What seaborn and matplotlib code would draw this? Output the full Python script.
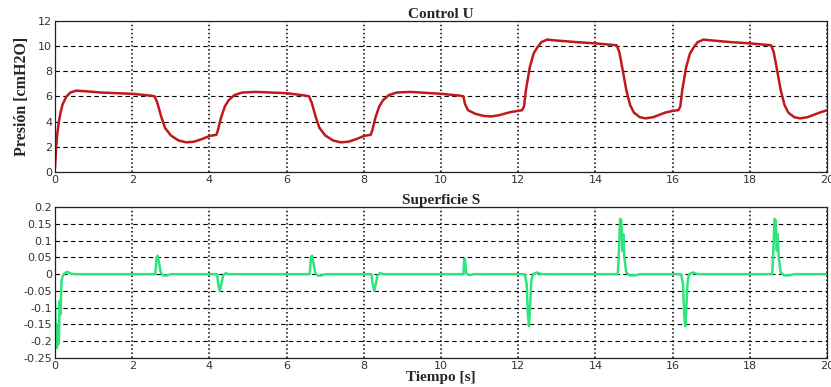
import matplotlib
matplotlib.use('Agg')
import matplotlib.pyplot as plt
import seaborn as sns

# Control U (presion)
t_u = [0, 0.02, 0.05, 0.1, 0.15, 0.2, 0.3, 0.4, 0.55, 0.8, 1.2, 2.0, 2.5, 2.58, 2.65, 2.75, 2.85,
       3.0, 3.2, 3.4, 3.6, 3.8, 4.0, 4.18, 4.22, 4.3, 4.4, 4.5, 4.65, 4.85, 5.2, 6.0, 6.5, 6.58,
       6.65, 6.75, 6.85, 7.0, 7.2, 7.4, 7.6, 7.8, 8.0, 8.18, 8.22, 8.3, 8.4, 8.5, 8.65, 8.85, 9.2,
       10.0, 10.5, 10.58, 10.62, 10.7, 10.9, 11.1, 11.3, 11.5, 11.8, 12.1, 12.15, 12.2, 12.3, 12.4,
       12.5, 12.6, 12.75, 12.9, 13.5, 14.0, 14.55, 14.62, 14.7, 14.8, 14.9, 15.0, 15.15, 15.3,
       15.5, 15.8, 16.0, 16.15, 16.2, 16.25, 16.35, 16.45, 16.55, 16.65, 16.8, 16.95, 17.5, 18.0,
       18.55, 18.62, 18.7, 18.8, 18.9, 19.0, 19.15, 19.3, 19.5, 19.8, 20.0]
u = [0.3, 1.5, 2.8, 4.0, 4.8, 5.4, 6.0, 6.3, 6.45, 6.4, 6.3, 6.2, 6.05, 6.0, 5.5, 4.4, 3.5,
     2.9, 2.5, 2.35, 2.4, 2.6, 2.85, 2.95, 3.3, 4.3, 5.2, 5.7, 6.1, 6.3, 6.35, 6.25, 6.05, 6.0,
     5.5, 4.4, 3.5, 2.9, 2.5, 2.35, 2.4, 2.6, 2.85, 2.95, 3.3, 4.3, 5.2, 5.7, 6.1, 6.3, 6.35,
     6.2, 6.05, 6.0, 5.4, 4.9, 4.6, 4.45, 4.4, 4.5, 4.75, 4.9, 5.2, 6.5, 8.3, 9.4,
     9.9, 10.3, 10.5, 10.45, 10.3, 10.2, 10.05, 9.5, 8.2, 6.5, 5.3, 4.7, 4.35, 4.25,
     4.35, 4.7, 4.85, 4.9, 5.2, 6.5, 8.3, 9.4, 9.9, 10.3, 10.5, 10.45, 10.3, 10.2,
     10.05, 9.5, 8.2, 6.5, 5.3, 4.7, 4.35, 4.25, 4.35, 4.7, 4.9]

# Superficie S
t_s = [0, 0.02, 0.04, 0.06, 0.08, 0.1, 0.12, 0.14, 0.17, 0.2, 0.25, 0.32, 0.4, 0.5,
       2.6, 2.63, 2.66, 2.7, 2.74, 2.8, 2.9, 3.0,
       4.2, 4.23, 4.27, 4.31, 4.35, 4.42, 4.5,
       6.6, 6.63, 6.66, 6.7, 6.74, 6.8, 6.9, 7.0,
       8.2, 8.23, 8.27, 8.31, 8.35, 8.42, 8.5,
       10.58, 10.6, 10.62, 10.65, 10.68, 10.75, 10.85,
       12.15, 12.18, 12.22, 12.25, 12.28, 12.31, 12.34, 12.38, 12.48, 12.6,
       14.58, 14.61, 14.64, 14.67, 14.7, 14.72, 14.75, 14.8, 14.9, 15.05, 15.15,
       16.2, 16.23, 16.27, 16.3, 16.33, 16.36, 16.39, 16.43, 16.53, 16.65,
       18.58, 18.61, 18.64, 18.67, 18.7, 18.72, 18.75, 18.8, 18.9, 19.05, 19.15, 20.0]
s = [-0.08, -0.2, -0.22, -0.15, -0.21, -0.2, -0.08, -0.12, -0.02, -0.005, 0.003, 0.007, 0.002, 0.0,
     0.0, 0.05, 0.055, 0.03, 0.005, -0.004, -0.004, 0.0,
     0.0, -0.03, -0.05, -0.03, -0.005, 0.003, 0.0,
     0.0, 0.05, 0.055, 0.03, 0.005, -0.004, -0.004, 0.0,
     0.0, -0.03, -0.05, -0.03, -0.005, 0.003, 0.0,
     0.0, 0.045, 0.045, 0.005, 0.0, -0.003, 0.0,
     0.0, -0.005, -0.03, -0.12, -0.155, -0.09, -0.02, 0.0, 0.005, 0.0,
     0.0, 0.07, 0.165, 0.16, 0.07, 0.12, 0.05, 0.005, -0.004, -0.003, 0.0,
     0.0, -0.005, -0.03, -0.12, -0.155, -0.09, -0.02, 0.0, 0.005, 0.0,
     0.0, 0.07, 0.165, 0.16, 0.07, 0.12, 0.05, 0.005, -0.004, -0.003, 0.0, 0.0]

sns.set_style('white')
plt.rcParams['font.family'] = ['DejaVu Sans']

fig = plt.figure(figsize=(8.31, 3.87), dpi=100)
ax1 = fig.add_axes([0.0662, 0.5556, 0.929, 0.391])
ax2 = fig.add_axes([0.0662, 0.0749, 0.929, 0.390])

sns.lineplot(x=t_u, y=u, ax=ax1, color='#c0181c', linewidth=1.8, estimator=None, sort=False)
sns.lineplot(x=t_s, y=s, ax=ax2, color='#2ee57c', linewidth=1.8, estimator=None, sort=False)

ax1.set_ylim(0, 12)
ax1.set_yticks([0, 2, 4, 6, 8, 10, 12])
ax2.set_ylim(-0.25, 0.2)
ax2.set_yticks([-0.25, -0.2, -0.15, -0.1, -0.05, 0, 0.05, 0.1, 0.15, 0.2])
ax2.set_yticklabels(['-0.25', '-0.2', '-0.15', '-0.1', '-0.05', '0', '0.05', '0.1', '0.15', '0.2'])

serif = ['Liberation Serif', 'DejaVu Serif']
for ax in (ax1, ax2):
    ax.set_xlim(0, 20)
    ax.set_xticks(range(0, 21, 2))
    ax.xaxis.grid(True, linestyle=':', color='black', linewidth=1.1)
    ax.yaxis.grid(True, linestyle='--', color='black', linewidth=0.8, dashes=(4, 3))
    ax.set_axisbelow(True)
    ax.tick_params(axis='both', direction='in', length=3, labelsize=8, pad=2, colors='#333333')
    for sp in ax.spines.values():
        sp.set_color('#222222')
        sp.set_linewidth(0.9)

ax1.set_title('Control U', fontsize=11, fontweight='bold', family=serif, pad=2)
ax2.set_title('Superficie S', fontsize=11, fontweight='bold', family=serif, pad=2)
ax1.set_ylabel('Presión [cmH2O]', fontsize=11.5, fontweight='bold', family=serif, labelpad=6)
ax2.set_xlabel('Tiempo [s]', fontsize=11, fontweight='bold', family=serif, labelpad=0)

fig.savefig('out.png', dpi=100)
